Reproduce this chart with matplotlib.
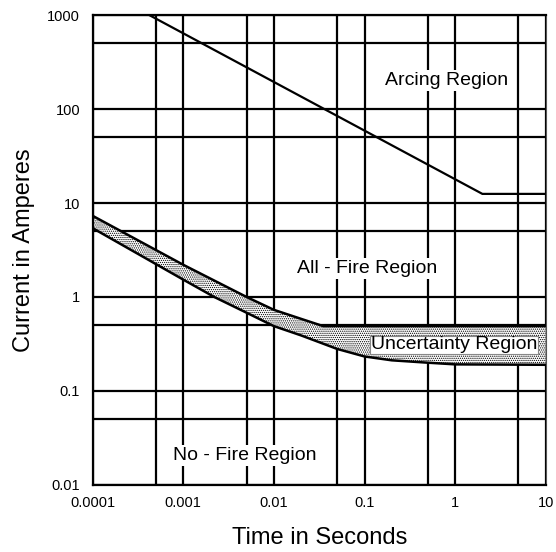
import numpy as np
import matplotlib
matplotlib.use("Agg")
import matplotlib.pyplot as plt
from matplotlib.ticker import FixedLocator, NullFormatter

plt.rcParams['font.family'] = ['Liberation Sans', 'DejaVu Sans']
plt.rcParams['hatch.linewidth'] = 0.6

# arcing boundary
arc_t = [0.00042, 2.0, 10.0]
arc_i = [1000, 12.5, 12.5]

# uncertainty band, upper edge
up_t = [0.0001, 0.001, 0.005, 0.01, 0.02, 0.035, 10.0]
up_i = [7.3, 2.2, 1.0, 0.73, 0.585, 0.49, 0.49]

# uncertainty band, lower edge
lo_t = [0.0001, 0.001, 0.0022, 0.005, 0.01, 0.02, 0.05, 0.1, 0.2, 0.5, 1.0, 10.0]
lo_i = [5.4, 1.53, 1.0, 0.68, 0.49, 0.39, 0.28, 0.233, 0.212, 0.2, 0.192, 0.19]

xticks = [0.0001, 0.001, 0.01, 0.1, 1, 10]
xticklabels = ["0.0001", "0.001", "0.01", "0.1", "1", "10"]
yticks = [0.01, 0.1, 1, 10, 100, 1000]
yticklabels = ["0.01", "0.1", "1", "10", "100", "1000"]
xminor = [0.0005, 0.005, 0.05, 0.5, 5]
yminor = [0.05, 0.5, 5, 50, 500]

fig = plt.figure(figsize=(5.56, 5.52), dpi=100)
ax = fig.add_axes([0.1667, 0.1214, 0.8148, 0.8514])
ax.set_xscale('log')
ax.set_yscale('log')
ax.set_xlim(0.0001, 10)
ax.set_ylim(0.01, 1000)

ax.xaxis.set_major_locator(FixedLocator(xticks))
ax.xaxis.set_minor_locator(FixedLocator(xminor))
ax.yaxis.set_major_locator(FixedLocator(yticks))
ax.yaxis.set_minor_locator(FixedLocator(yminor))
ax.set_xticklabels(xticklabels)
ax.set_yticklabels(yticklabels)
ax.xaxis.set_minor_formatter(NullFormatter())
ax.yaxis.set_minor_formatter(NullFormatter())
ax.tick_params(which='both', length=0, labelsize=10.5)
ax.tick_params(axis='x', pad=8)
ax.tick_params(axis='y', pad=9)

ax.set_axisbelow(True)
ax.grid(which='both', color='black', lw=1.6)

# band
band_t = up_t + lo_t[::-1]
band_i = up_i + lo_i[::-1]
ax.fill(band_t, band_i, facecolor='white', edgecolor='black', hatch='........', lw=0, zorder=1)
ax.plot(up_t, up_i, color='black', lw=1.8, zorder=2, solid_joinstyle='round')
ax.plot(lo_t, lo_i, color='black', lw=1.8, zorder=2, solid_joinstyle='round')
ax.plot(arc_t, arc_i, color='black', lw=1.6, zorder=2, solid_joinstyle='miter')

box = dict(facecolor='white', edgecolor='none', pad=1.5)
ax.text(0.81, 200, "Arcing Region", fontsize=14, ha='center', va='center', bbox=box, zorder=3)
ax.text(0.108, 2.0, "All - Fire Region", fontsize=14, ha='center', va='center', bbox=box, zorder=3)
ax.text(0.0048, 0.0205, "No - Fire Region", fontsize=14, ha='center', va='center', bbox=box, zorder=3)
ax.text(0.98, 0.31, "Uncertainty Region", fontsize=14, ha='center', va='center', zorder=3,
        bbox=dict(facecolor='white', edgecolor='#888888', lw=0.8, pad=0.5))

for s in ['left', 'bottom', 'top']:
    ax.spines[s].set_color('black')
    ax.spines[s].set_linewidth(1.6)
ax.spines['right'].set_color('#555555')
ax.spines['right'].set_linewidth(0.8)

ax.set_xlabel("Time in Seconds", fontsize=17, labelpad=12)
ax.set_ylabel("Current in Amperes", fontsize=17, labelpad=9)

fig.savefig("out.png", dpi=100)
